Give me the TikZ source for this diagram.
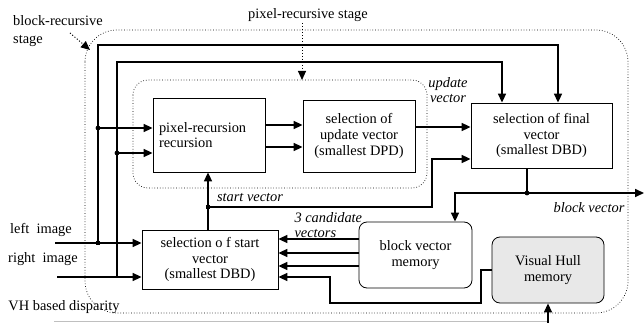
\documentclass[tikz,border=0pt]{standalone}
\usepackage{fontspec}
\setmainfont{Liberation Serif}
\usetikzlibrary{arrows.meta,calc}

\begin{document}
\begin{tikzpicture}[x=1pt,y=-1pt,font=\rmfamily\fontsize{14.4}{15.6}\selectfont,
	box/.style={draw,line width=0.8pt,align=center,inner sep=2pt},
	mem/.style={box,rounded corners=8pt},
	wire/.style={line width=1.6pt},
	arr/.style={wire,-{Triangle[length=9pt,width=8pt]}},
	lbl/.style={font=\rmfamily\fontsize{14.4}{15.6}\selectfont\itshape},
	stage/.style={dotted,line width=0.7pt},
	pointer/.style={dotted,line width=1pt,-{Triangle[length=9pt,width=8pt]}},
	dot/.style={circle,fill,inner sep=1.7pt}]
	\useasboundingbox (0,0) rectangle (644,323);
	\draw[stage,rounded corners=32pt] (85,30) rectangle (628,313);
	\draw[stage,rounded corners=15pt] (133,80) rectangle (427,188);
	\node[box,minimum width=112pt,minimum height=74pt,text width=100pt,align=left] (pix) at (209,135) {pixel-recursion\\recursion};
	\node[box,minimum width=112pt,minimum height=72pt] (upd) at (359,136) {selection of\\update vector\\(smallest DPD)};
	\node[box,minimum width=141pt,minimum height=65pt] (fin) at (541.5,135.5) {selection of final\\vector\\(smallest DBD)};
	\node[box,minimum width=136pt,minimum height=59pt] (sta) at (210,259.5) {selection o f start\\vector\\(smallest DBD)};
	\node[mem,minimum width=113pt,minimum height=66pt] (bvm) at (415.5,255) {block vector\\memory};
	\node[mem,fill=gray!18,minimum width=112pt,minimum height=66pt] (vhm) at (548,270) {Visual Hull\\memory};
	\node[align=left,font=\rmfamily\fontsize{14.4}{18}\selectfont] (brs) at (58,31) {block-recursive\\stage};
	\node (prs) at (308,15) {pixel-recursive stage};
	\node[lbl,align=center] (uvl) at (448,90) {update\\vector};
	\node[lbl] (svl) at (250,198) {start vector};
	\node[lbl,align=left,anchor=west] (cvl) at (291,225) {3 candidate\\vectors};
	\node[lbl] (bvl) at (589,208) {block vector};
	\node (lil) at (41,230) {left~ image};
	\node (ril) at (43,259) {right~ image};
	\node (vhl) at (64,307) {VH based disparity};
	\coordinate (brs0) at (70,33);
	\coordinate (brs1) at (90,50);
	\draw[pointer] (brs0) -- (brs1);
	\coordinate (prs0) at (302,23);
	\coordinate (prs1) at (302,80);
	\draw[pointer] (prs0) -- (prs1);
	\coordinate (lin) at (55,243);
	\coordinate (rin) at (57,277);
	\coordinate (a0) at (98,243);
	\coordinate (b0) at (117,277);
	\coordinate (ta) at (98,45);
	\coordinate (tb) at (117,62);
	\coordinate (ja) at (98,128);
	\coordinate (jb) at (117,153);
	\draw[arr] (lin) -- (lin -| sta.west);
	\draw[arr] (rin) -- (rin -| sta.west);
	\draw[arr] (a0) -- (ta) -| ($(fin.north)+(16.5,0)$);
	\draw[arr] (b0) -- (tb) -| ($(fin.north)+(-39.5,0)$);
	\draw[arr] (ja) -- (ja -| pix.west);
	\draw[arr] (jb) -- (jb -| pix.west);
	\node[dot,rectangle,inner sep=1.8pt] at (a0) {};
	\node[dot] at (ja) {};
	\node[dot] at (jb) {};
	\coordinate (p1) at ($(pix.east)+(0,-10)$);
	\coordinate (p2) at ($(pix.east)+(0,12)$);
	\draw[arr] (p1) -- (p1 -| upd.west);
	\draw[arr] (p2) -- (p2 -| upd.west);
	\coordinate (u1) at ($(upd.east)+(0,-9)$);
	\draw[arr] (u1) -- (u1 -| fin.west);
	\coordinate (sv) at (208,207);
	\coordinate (sc) at (432,159);
	\draw[arr] (sta.north -| sv) -- (pix.south -| sv);
	\draw[arr] (sv) -| (sc) -- (sc -| fin.west);
	\node[dot,rectangle,inner sep=1.8pt] at (sv) {};
	\coordinate (bv) at (527,193);
	\coordinate (bo) at (644,193);
	\draw[wire] (fin.south -| bv) -- (bv);
	\draw[arr] (bv) -- (bo);
	\draw[arr] (bv) -| ($(bvm.north)+(39.5,0)$);
	\node[dot] at (bv) {};
	\foreach \r in {239,253,266} {
		\coordinate (cr) at (0,\r);
		\draw[arr] (cr -| bvm.west) -- (cr -| sta.east);
	}
	\coordinate (v1) at (481,303);
	\coordinate (v2) at (330,277);
	\draw[arr] (vhm.west) -| (v1) -| (v2) -- (v2 -| sta.east);
	\coordinate (vg) at (54,321);
	\coordinate (vin) at (548,323);
	\draw[gray!50,line width=0.6pt] (vg) -- (vg -| vhm.south);
	\draw[arr,line width=1.3pt] (vin) -- (vhm.south);
\end{tikzpicture}
\end{document}
